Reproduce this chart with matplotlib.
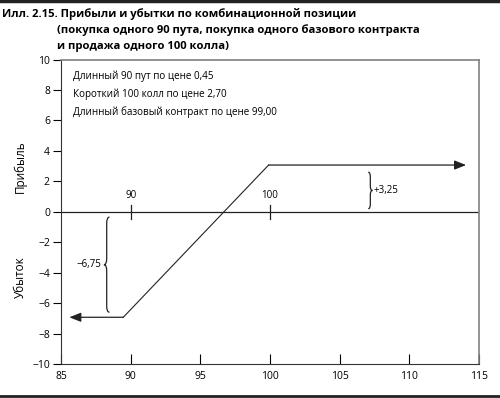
import matplotlib
matplotlib.use("Agg")
import matplotlib.pyplot as plt
from matplotlib.path import Path
from matplotlib.patches import PathPatch

plt.rcParams['font.family'] = ['Open Sans', 'DejaVu Sans']

# payoff line
price = [85.6, 89.47, 99.9, 114.07]
pnl = [-6.93, -6.93, 3.07, 3.07]
strikes = [90, 100]
strike_labels = ['90', '100']

notes = ['Длинный 90 пут по цене 0,45',
         'Короткий 100 колл по цене 2,70',
         'Длинный базовый контракт по цене 99,00']
loss_label = '\u22126,75'
gain_label = '+3,25'

title_lines = ['Илл. 2.15. Прибыли и убытки по комбинационной позиции',
               '(покупка одного 90 пута, покупка одного базового контракта',
               'и продажа одного 100 колла)']


def brace(ax, x, y0, y1, w, d):
    # curly brace, w>0 opens to the right ("{"), w<0 gives "}"
    mid = (y0 + y1) / 2
    verts = [(x + w, y1), (x, y1), (x, y1 - d),
             (x, mid + d),
             (x, mid), (x - w, mid),
             (x, mid), (x, mid - d),
             (x, y0 + d),
             (x, y0), (x + w, y0)]
    codes = [Path.MOVETO, Path.CURVE3, Path.CURVE3,
             Path.LINETO,
             Path.CURVE3, Path.CURVE3,
             Path.CURVE3, Path.CURVE3,
             Path.LINETO,
             Path.CURVE3, Path.CURVE3]
    ax.add_patch(PathPatch(Path(verts, codes), fill=False, lw=0.9, color='#222222'))


fig = plt.figure(figsize=(5, 3.98), dpi=100)
ax = fig.add_axes([0.122, 0.0854, 0.836, 0.765])

ax.set_xlim(85, 115)
ax.set_ylim(-10, 10)
ax.set_xticks(range(85, 116, 5))
ax.set_yticks(range(-10, 11, 2))
ax.tick_params(axis='x', direction='in', length=7, width=0.8, labelsize=7.5, pad=5)
ax.tick_params(axis='y', direction='out', length=6, width=0.8, labelsize=7.5, pad=2)
for s in ['left', 'bottom']:
    ax.spines[s].set_color('#333333')
for s in ['top', 'right']:
    ax.spines[s].set_color('#808080')
    ax.spines[s].set_linewidth(1.2)

ax.axhline(0, color='#222222', lw=0.9)
for k, lab in zip(strikes, strike_labels):
    ax.plot([k, k], [-0.5, 0.45], color='#222222', lw=0.9)
    ax.text(k, 1.1, lab, ha='center', va='center', fontsize=7)

# payoff: middle segment plus two arrow ends
ax.plot(price[1:3], pnl[1:3], color='#222222', lw=0.8)
arrow = dict(arrowstyle='-|>,head_length=0.5,head_width=0.2', color='#222222', lw=0.9,
             mutation_scale=14, shrinkA=0, shrinkB=0)
ax.annotate('', xy=(price[0], pnl[0]), xytext=(price[1], pnl[1]), arrowprops=arrow)
ax.annotate('', xy=(price[3], pnl[3]), xytext=(price[2], pnl[2]), arrowprops=arrow)

brace(ax, 88.28, -6.6, -0.35, 0.2, 0.4)
ax.text(87.9, -3.45, loss_label, ha='right', va='center', fontsize=7)
brace(ax, 107.2, 0.2, 2.6, -0.15, 0.3)
ax.text(107.45, 1.4, gain_label, ha='left', va='center', fontsize=7)

for i, t in enumerate(notes):
    ax.text(85.86, 8.9 - 1.17 * i, t, ha='left', va='center', fontsize=7.1)

fig.text(0.040, (398 - 167) / 398, 'Прибыль', rotation=90, ha='center', va='center', fontsize=8.5)
fig.text(0.040, (398 - 277) / 398, 'Убыток', rotation=90, ha='center', va='center', fontsize=8.5)

fig.text(0.004, 1 - 14 / 398, title_lines[0], ha='left', va='center', fontsize=8.1, fontweight='bold')
fig.text(0.114, 1 - 30 / 398, title_lines[1], ha='left', va='center', fontsize=8.1, fontweight='bold')
fig.text(0.114, 1 - 46 / 398, title_lines[2], ha='left', va='center', fontsize=8.1, fontweight='bold')

# frame lines at the top and bottom of the figure
fig.add_artist(plt.Line2D([0, 1], [0.998, 0.998], color='#222222', lw=2.5))
fig.add_artist(plt.Line2D([0, 1], [0.004, 0.004], color='#222222', lw=2.0))

fig.savefig('out.png', dpi=100)
